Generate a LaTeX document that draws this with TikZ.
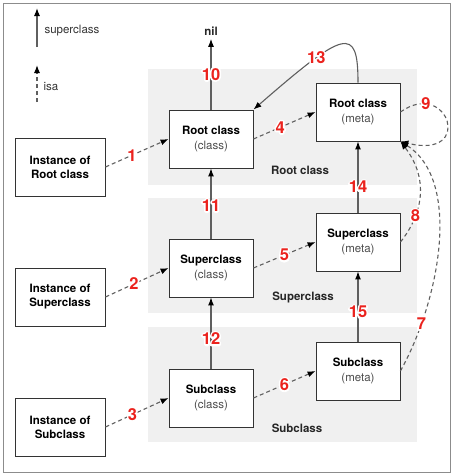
\documentclass[tikz,border=0pt]{standalone}
\usepackage{fontspec}
\setmainfont{TeX Gyre Heros}
\usetikzlibrary{arrows.meta}
\definecolor{numred}{RGB}{235,35,30}
\definecolor{bandgray}{RGB}{240,240,240}
\definecolor{linegray}{RGB}{95,95,95}
% white outlined red number
\newcommand{\outnum}[1]{\rlap{\textcolor{white}{\special{pdf:literal direct 1 Tr 3.4 w 1 j 1 1 1 RG}#1\special{pdf:literal direct 0 Tr}}}#1}

\begin{document}
\begin{tikzpicture}[x=1pt, y=-1pt,
    box/.style={draw=black!80, fill=white, line width=0.9pt, minimum width=84pt, minimum height=58pt, align=center, inner sep=0pt, font=\fontsize{11.5}{15}\selectfont},
    inst/.style={box, minimum width=90pt, font=\fontsize{11.5}{14}\selectfont\bfseries},
    band/.style={fill=bandgray},
    bandlabel/.style={font=\fontsize{11.5}{14}\selectfont\bfseries, text=black!85},
    super/.style={draw=linegray, line width=1.1pt, -{Latex[length=8pt, width=6pt, color=black]}},
    isa/.style={super, dash pattern=on 4pt off 3pt},
    num/.style={font=\fontsize{16.5}{16}\selectfont\bfseries, text=numred, inner sep=0pt}
]
\useasboundingbox (0,0) rectangle (454,475);
\draw[black!45, line width=1pt] (3,3) rectangle (450,472);

% Define bands
\fill[band] (148,69) rectangle (417,185);
\fill[band] (148,198) rectangle (417,313);
\fill[band] (148,327) rectangle (417,442);
\node[bandlabel] (broot) at (300,170) {Root class};
\node[bandlabel] (bsuper) at (303,297) {Superclass};
\node[bandlabel] (bsub) at (297,428) {Subclass};

% Define legend
\coordinate (sup0) at (37,47);
\coordinate (sup1) at (37,8);
\coordinate (isa0) at (37,102);
\coordinate (isa1) at (37,65);
\node[anchor=west, font=\fontsize{11.5}{14}\selectfont, text=black!80] (lsuper) at (41,31) {superclass};
\node[anchor=west, font=\fontsize{11.5}{14}\selectfont, text=black!80] (lisa) at (40,87) {isa};
\draw[super] (sup0) -- (sup1);
\draw[isa] (isa0) -- (isa1);

% Define boxes
\node[inst] (iroot) at (60,167) {Instance of\\Root class};
\node[inst] (isuper) at (60,297) {Instance of\\Superclass};
\node[inst] (isub) at (60,427) {Instance of\\Subclass};
\node[box] (croot) at (211,139) {\textbf{Root class}\\\textcolor{black!70}{(class)}};
\node[box] (csuper) at (211,268) {\textbf{Superclass}\\\textcolor{black!70}{(class)}};
\node[box] (csub) at (211,398) {\textbf{Subclass}\\\textcolor{black!70}{(class)}};
\node[box] (mroot) at (358,112) {\textbf{Root class}\\\textcolor{black!70}{(meta)}};
\node[box] (msuper) at (358,242) {\textbf{Superclass}\\\textcolor{black!70}{(meta)}};
\node[box] (msub) at (358,371) {\textbf{Subclass}\\\textcolor{black!70}{(meta)}};
\node[font=\fontsize{11.5}{14}\selectfont\bfseries, text=black!85] (nil) at (211,31) {nil};

% Define isa arrows
\draw[isa] (iroot.east) -- node[num, pos=0.42] {\outnum{1}} (croot.west);
\draw[isa] (isuper.east) -- node[num, pos=0.45] {\outnum{2}} (csuper.west);
\draw[isa] (isub.east) -- node[num, pos=0.43] {\outnum{3}} (csub.west);
\draw[isa] (croot.east) -- node[num, pos=0.43] {\outnum{4}} (mroot.west);
\draw[isa] (csuper.east) -- node[num, pos=0.5] {\outnum{5}} (msuper.west);
\draw[isa] (csub.east) -- node[num, pos=0.5] {\outnum{6}} (msub.west);
\draw[isa] (msub.east) .. controls (440,300) and (462,180) .. node[num, pos=0.2] {\outnum{7}} (mroot.south east);
\draw[isa] (msuper.east) .. controls (422,215) and (430,180) .. node[num, pos=0.3] {\outnum{8}} (mroot.south east);
\draw[isa] (mroot.east) .. controls (448,78) and (475,160) .. node[num, pos=0.2] {\outnum{9}} (mroot.south east);

% Define superclass arrows
\draw[super] (croot.north) -- node[num, pos=0.5] {\outnum{10}} (nil.south);
\draw[super] (csuper.north) -- node[num, pos=0.47] {\outnum{11}} (croot.south);
\draw[super] (csub.north) -- node[num, pos=0.42] {\outnum{12}} (csuper.south);
\draw[super] (mroot.north) .. controls (358,25) and (345,30) .. node[num, pos=0.7] {\outnum{13}} (croot.north east);
\draw[super] (msuper.north) -- node[num, pos=0.36] {\outnum{14}} (mroot.south);
\draw[super] (msub.north) -- node[num, pos=0.42] {\outnum{15}} (msuper.south);

\end{tikzpicture}
\end{document}
